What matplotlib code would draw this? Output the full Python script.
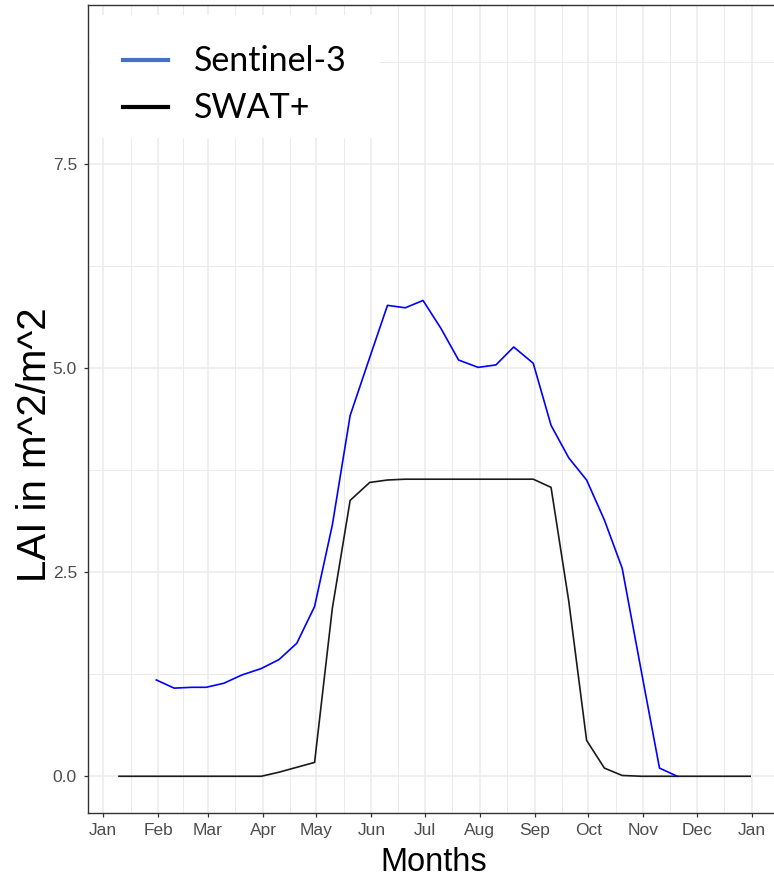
import datetime as dt
import matplotlib
matplotlib.use('Agg')
import matplotlib.pyplot as plt
import matplotlib.dates as mdates
from matplotlib.lines import Line2D
from matplotlib.patches import Rectangle
from matplotlib.ticker import FormatStrFormatter

year = 2019

# dekadal LAI values (m^2/m^2)
swat_days = ['01-10', '01-20', '01-31', '02-10', '02-20', '02-28',
             '03-10', '03-20', '03-31', '04-10', '04-20', '04-30',
             '05-10', '05-20', '05-31', '06-10', '06-20', '06-30',
             '07-10', '07-20', '07-31', '08-10', '08-20', '08-31',
             '09-10', '09-20', '09-30', '10-10', '10-20', '10-31',
             '11-10', '11-20', '11-30', '12-10', '12-20', '12-31']
swat_lai = [0, 0, 0, 0, 0, 0,
            0, 0, 0, 0.05, 0.11, 0.17,
            2.06, 3.38, 3.60, 3.63, 3.64, 3.64,
            3.64, 3.64, 3.64, 3.64, 3.64, 3.64,
            3.54, 2.14, 0.44, 0.10, 0.01, 0,
            0, 0, 0, 0, 0, 0]

s3_days = ['01-31', '02-10', '02-20', '02-28',
           '03-10', '03-20', '03-31', '04-10', '04-20', '04-30',
           '05-10', '05-20', '05-31', '06-10', '06-20', '06-30',
           '07-10', '07-20', '07-31', '08-10', '08-20', '08-31',
           '09-10', '09-20', '09-30', '10-10', '10-20', '10-31',
           '11-10', '11-20']
s3_lai = [1.18, 1.08, 1.09, 1.09,
          1.14, 1.24, 1.32, 1.43, 1.63, 2.08,
          3.08, 4.42, 5.13, 5.77, 5.74, 5.83,
          5.49, 5.10, 5.01, 5.04, 5.26, 5.06,
          4.30, 3.90, 3.63, 3.14, 2.55, 1.26,
          0.10, 0.0]

legend_labels = ['Sentinel-3', 'SWAT+']
y_ticks = [0, 2.5, 5.0, 7.5]


def to_dates(days):
    return [dt.datetime.strptime(f'{year}-{d}', '%Y-%m-%d') for d in days]


W, H = 774, 880
fig = plt.figure(figsize=(W / 100, H / 100), dpi=100)
ax = fig.add_axes([88 / W, (H - 813) / H, (782 - 88) / W, (813 - 5) / H])

ax.plot(to_dates(swat_days), swat_lai, color='#1a1a1a', lw=1.2, zorder=3)
ax.plot(to_dates(s3_days), s3_lai, color='#0000ff', lw=1.2, zorder=3)

start = dt.datetime(year, 1, 1)
ax.set_xlim(start - dt.timedelta(days=8.44), start + dt.timedelta(days=381.9))
ax.set_ylim(-0.45, 9.45)

months = [dt.datetime(year, m, 1) for m in range(1, 13)] + [dt.datetime(year + 1, 1, 1)]
mids = [a + (b - a) / 2 for a, b in zip(months[:-1], months[1:])]
ax.set_xticks(months)
ax.set_xticks(mids, minor=True)
ax.xaxis.set_major_formatter(mdates.DateFormatter('%b'))
ax.set_yticks(y_ticks)
ax.set_yticks([1.25, 3.75, 6.25, 8.75], minor=True)
ax.yaxis.set_major_formatter(FormatStrFormatter('%.1f'))

ax.grid(which='major', color='#EBEBEB', lw=1.1)
ax.grid(which='minor', color='#EBEBEB', lw=0.7)
ax.set_axisbelow(True)

for s in ax.spines.values():
    s.set_color('#333333')
    s.set_linewidth(1.0)

ax.tick_params(which='major', length=3, width=0.9, color='#333333',
               labelcolor='#4D4D4D', labelsize=12.5)
ax.tick_params(axis='x', pad=4.5)
ax.tick_params(axis='y', pad=5)
ax.tick_params(which='minor', length=0)
for lab in ax.get_xticklabels() + ax.get_yticklabels():
    lab.set_family('Liberation Sans')

ax.set_xlabel('Months', fontsize=23.5, family='Liberation Sans')
ax.xaxis.set_label_coords((434 - 88) / 694, (813 - 847) / 808)
ax.xaxis.label.set_va('top')
ax.set_ylabel('LAI in m^2/m^2', fontsize=29, family='Liberation Sans')
ax.yaxis.set_label_coords((54 - 88) / 694, (813 - 445) / 808)

# legend box laid over the panel
fig.add_artist(Rectangle((90 / W, (H - 138) / H), 290 / W, 123 / H,
                         transform=fig.transFigure, facecolor='white',
                         edgecolor='none', zorder=5))
for (label, color, ybase, yline) in zip(legend_labels, ['#4472C4', 'black'],
                                        [71, 118], [60, 107]):
    fig.add_artist(Line2D([123 / W, 168 / W], [(H - yline) / H] * 2,
                          transform=fig.transFigure, color=color, lw=3, zorder=6))
    fig.text(194 / W, (H - ybase) / H, label, fontsize=24.5,
             family=['Lato', 'DejaVu Sans'], va='baseline', ha='left', zorder=6)

fig.savefig('out.png', dpi=100)
